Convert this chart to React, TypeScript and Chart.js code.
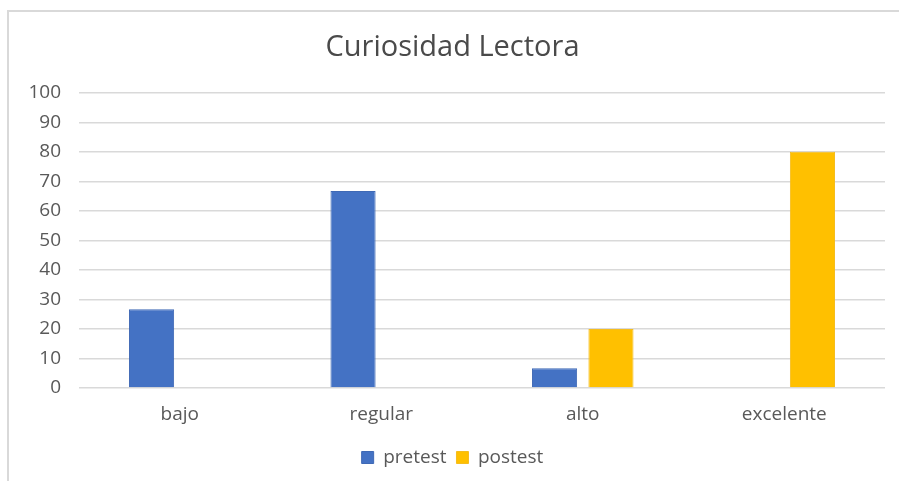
import React, { useEffect, useRef } from "react";
import { Chart, registerables } from "chart.js";

Chart.register(...registerables);

const titleText = "Curiosidad Lectora";
const categories = ["bajo", "regular", "alto", "excelente"];
const seriesNames = ["pretest", "postest"];
const pretest = [26.7, 66.7, 6.7, 0];
const postest = [0, 0, 20, 80];
const yMin = 0;
const yMax = 100;
const yStep = 10;

const FONT = "'Open Sans', 'Noto Sans', sans-serif";
const TEXT = "#595959";
const GRID = "#d9d9d9";

export default function App() {
  const ref = useRef<HTMLCanvasElement | null>(null);

  useEffect(() => {
    if (!ref.current) return;
    const chart = new Chart(ref.current, {
      type: "bar",
      data: {
        labels: categories,
        datasets: [
          {
            label: seriesNames[0],
            data: pretest,
            backgroundColor: "#4472C4",
            borderColor: "#3F69B5",
            borderWidth: 1,
          },
          {
            label: seriesNames[1],
            data: postest,
            backgroundColor: "#FFC000",
            borderColor: "#F5BD1E",
            borderWidth: 1,
          },
        ],
      },
      options: {
        responsive: false,
        animation: false,
        devicePixelRatio: 1,
        layout: { padding: { left: 20, right: 14, top: 0, bottom: 4 } },
        datasets: {
          bar: { categoryPercentage: 0.56, barPercentage: 0.8 },
        },
        scales: {
          x: {
            grid: { display: false, drawTicks: false },
            border: { display: false },
            ticks: {
              color: TEXT,
              font: { family: FONT, size: 19 },
              padding: 15,
            },
            afterFit: (s: any) => {
              s.height = 50;
            },
          },
          y: {
            min: yMin,
            max: yMax,
            grid: { color: GRID, lineWidth: 1.5, drawTicks: false },
            border: { display: false },
            ticks: {
              stepSize: yStep,
              color: TEXT,
              font: { family: FONT, size: 19 },
              padding: 18,
            },
            afterFit: (s: any) => {
              s.width = 59;
            },
          },
        },
        plugins: {
          title: {
            display: true,
            text: titleText,
            color: "#4a4a4a",
            font: { family: FONT, size: 29, weight: "normal" },
            padding: { top: 30, bottom: 28 },
          },
          legend: {
            position: "bottom",
            labels: {
              color: TEXT,
              font: { family: FONT, size: 19 },
              boxWidth: 12,
              boxHeight: 12,
              padding: 10,
            },
          },
          tooltip: { enabled: false },
        },
      },
    });
    return () => chart.destroy();
  }, []);

  return (
    <div
      style={{
        position: "fixed",
        left: 0,
        top: 0,
        width: 899,
        height: 481,
        overflow: "hidden",
        background: "#fff",
      }}
    >
      <div
        style={{
          position: "absolute",
          left: 7,
          top: 10,
          width: 1200,
          height: 1200,
          borderTop: "2px solid #d9d9d9",
          borderLeft: "2px solid #d9d9d9",
        }}
      />
      <canvas
        ref={ref}
        width={899}
        height={481}
        style={{ position: "absolute", left: 0, top: 0, width: 899, height: 481 }}
      />
    </div>
  );
}
